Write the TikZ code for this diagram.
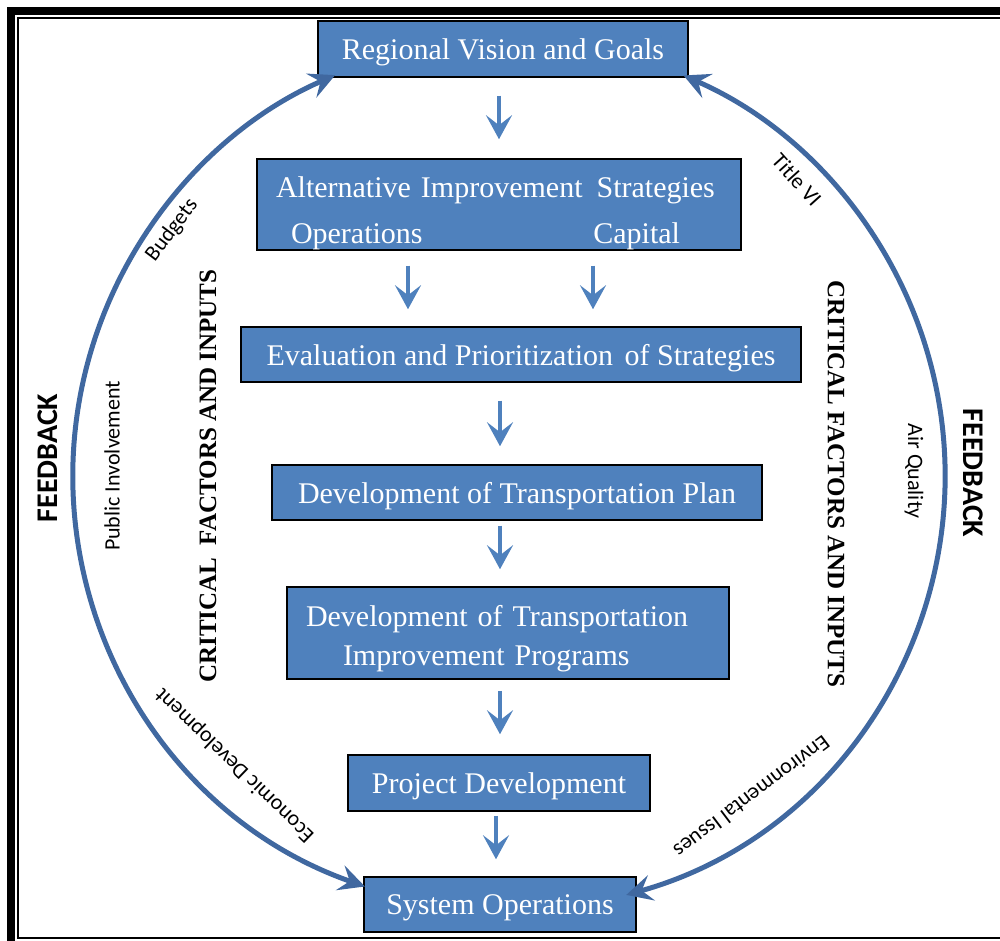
\documentclass[tikz,border=0pt]{standalone}
\usepackage{fontspec}
\setmainfont{Liberation Serif}
\newfontfamily\lblfont{Carlito}
\usetikzlibrary{arrows.meta,calc}
\definecolor{boxblue}{RGB}{79,129,189}
\definecolor{arcblue}{RGB}{64,104,160}

\begin{document}
\begin{tikzpicture}[x=1pt,y=1pt,
  box/.style={draw=black, line width=1.5pt, fill=boxblue, text=white, inner sep=0pt, font=\fontsize{30}{36}\selectfont},
  onebox/.style={box, text depth=0pt},
  flow/.style={draw=boxblue, line width=4pt, -{Stealth[length=24pt,width=26pt,inset=10pt]}},
  fb/.style={draw=arcblue, line width=5pt, {Stealth[length=26pt,width=26pt,inset=10pt]}-{Stealth[length=26pt,width=26pt,inset=10pt]}},
  lbl/.style={font=\lblfont\fontsize{22}{26}\selectfont, inner sep=0pt},
  side/.style={font=\lblfont\bfseries\fontsize{30}{36}\selectfont, inner sep=0pt},
  crit/.style={font=\bfseries\fontsize{25}{30}\selectfont, inner sep=0pt}]
  \useasboundingbox (0,0) rectangle (1000,940);
  \draw[line width=8pt] (11,-20) -- (11,929) -- (1020,929);
  \draw[line width=2pt] (18,2) rectangle (1004,922);

  \node[onebox, minimum width=370pt, minimum height=56pt] (vision) at (503,891) {Regional Vision and Goals};
  \node[box, minimum height=91pt, text width=446pt, inner xsep=19pt, align=left] (alt) at (499,735.5)
    {\rule{0pt}{38pt}Alternative Improvement\hspace{4pt} Strategies\\[10pt]\makebox[404pt][l]{\hspace*{15pt}Operations\hfill Capital}};
  \node[onebox, minimum width=560pt, minimum height=55pt] (eval) at (521,585.5) {Evaluation and Prioritization\hspace{4pt} of Strategies};
  \node[onebox, minimum width=490pt, minimum height=55pt] (plan) at (517,447.5) {Development of Transportation Plan};
  \node[box, minimum height=92pt, text width=404pt, inner xsep=19pt, align=left] (tip) at (508,307)
    {\rule{0pt}{32pt}Development of Transportation\\[3pt]\hspace*{37pt}Improvement Programs};
  \node[onebox, minimum width=302pt, minimum height=56pt] (proj) at (499,157) {Project Development};
  \node[onebox, minimum width=272pt, minimum height=55pt] (sys) at (500,35.5) {System Operations};

  \draw[flow, shorten <=18pt, shorten >=19pt] (vision.south -| alt.north) -- (alt.north);
  \draw[flow, shorten <=15pt, shorten >=17pt] ([xshift=-91pt]alt.south) -- ([xshift=-91pt]alt.south |- eval.north);
  \draw[flow, shorten <=15pt, shorten >=17pt] ([xshift=94pt]alt.south) -- ([xshift=94pt]alt.south |- eval.north);
  \draw[flow, shorten <=18pt, shorten >=18pt] ([xshift=-21pt]eval.south) -- ([xshift=-21pt]eval.south |- plan.north);
  \draw[flow, shorten <=5pt, shorten >=17pt] ([xshift=-17pt]plan.south) -- ([xshift=-17pt]plan.south |- tip.north);
  \draw[flow, shorten <=11pt, shorten >=20pt] ([xshift=-8pt]tip.south) -- ([xshift=-8pt]tip.south |- proj.north);
  \draw[flow, shorten <=4pt, shorten >=17pt] ([xshift=-3pt]proj.south) -- ([xshift=-3pt]proj.south |- sys.north);

  \coordinate (hub) at (509,465);
  \draw[fb] ($(hub)+(250.7:436)$) arc[start angle=250.7, end angle=113.5, radius=436];
  \draw[fb] ($(hub)+(-74.4:436)$) arc[start angle=-74.4, end angle=66.4, radius=436];

  \node[lbl, rotate=53] (budgets) at (172,710) {Budgets};
  \node[lbl, rotate=-48] (title) at (797,760) {Title VI};
  \node[lbl, rotate=90] (public) at (112,474) {Public Involvement};
  \node[lbl, rotate=-90] (air) at (914,469) {Air Quality};
  \node[lbl, rotate=136] (econ) at (235,175) {Economic Development};
  \node[lbl, rotate=-143] (env) at (752,143) {Environmental Issues};

  \node[side, rotate=90] (fbleft) at (48,482) {FEEDBACK};
  \node[side, rotate=-90] (fbright) at (973,467) {FEEDBACK};
  \node[crit, rotate=90] (critleft) at (208,464) {CRITICAL\ \ FACTORS AND INPUTS};
  \node[crit, rotate=-90] (critright) at (836,456) {CRITICAL FACTORS AND INPUTS};
\end{tikzpicture}
\end{document}
